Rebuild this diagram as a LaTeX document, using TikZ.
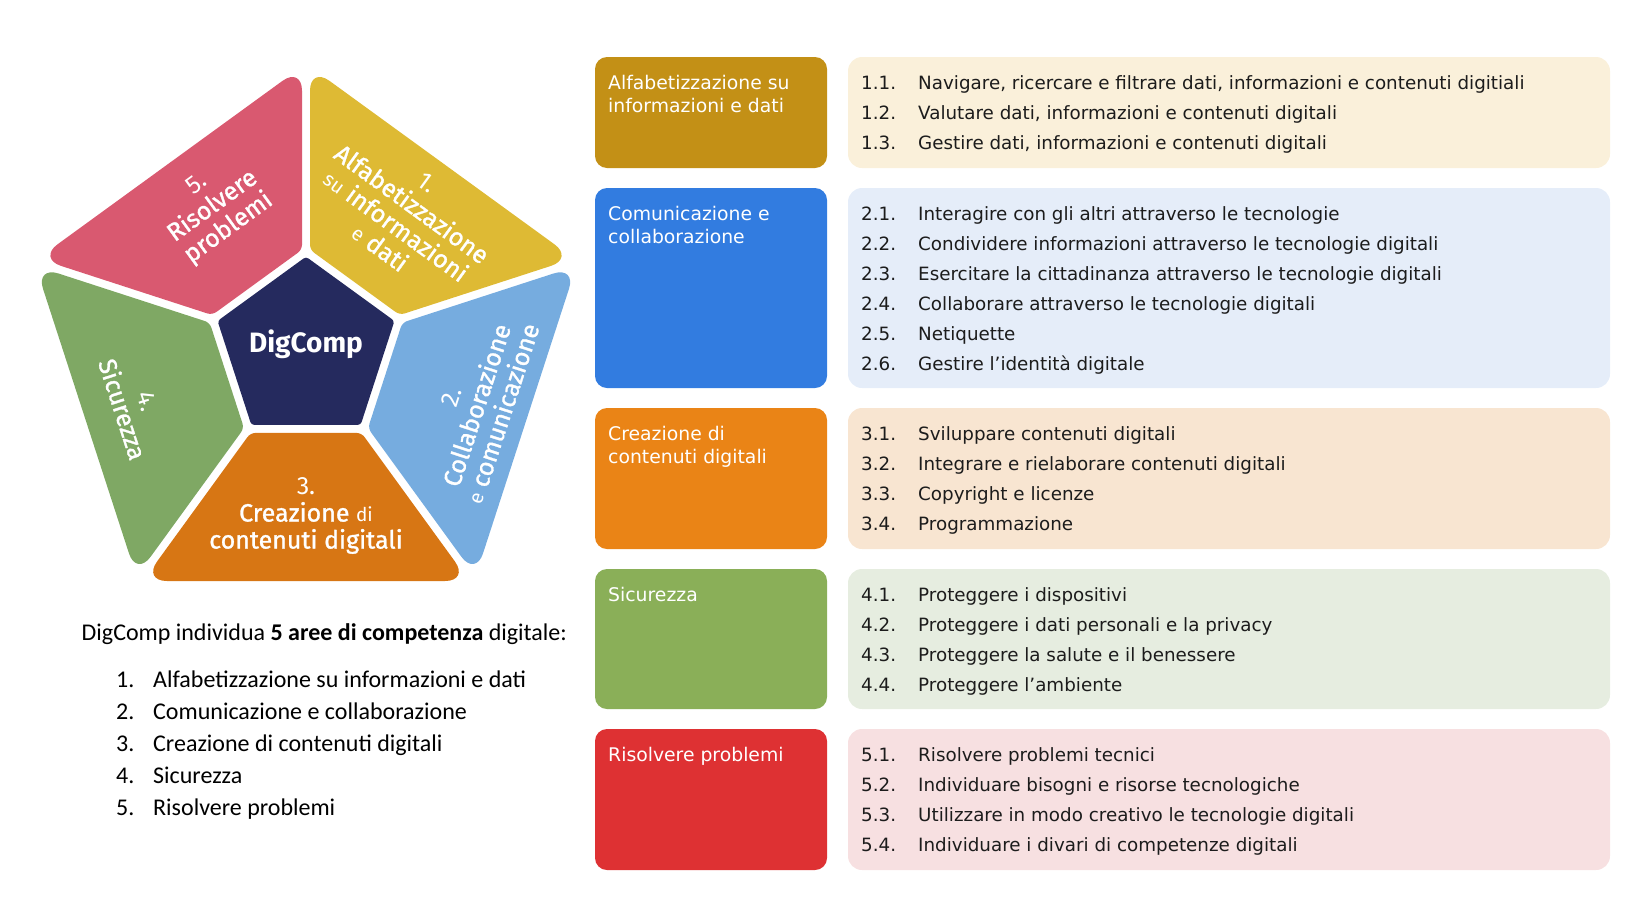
\documentclass[tikz,border=0pt]{standalone}
\usepackage{fontspec}
\setmainfont{DejaVu Sans}
\newfontfamily\calib{Carlito}
\newfontfamily\dcfont{Fira Sans}
\newfontfamily\dcmed{Fira Sans}[FakeBold=1.2]
\usetikzlibrary{shapes.geometric}
\definecolor{segred}{RGB}{217,89,112}
\definecolor{segyel}{RGB}{222,186,52}
\definecolor{segblu}{RGB}{118,172,223}
\definecolor{segora}{RGB}{215,118,20}
\definecolor{seggrn}{RGB}{127,168,100}
\definecolor{navy}{RGB}{37,42,94}
\definecolor{bgold}{RGB}{195,144,22}
\definecolor{bblue}{RGB}{50,124,224}
\definecolor{borange}{RGB}{234,132,22}
\definecolor{bgreen}{RGB}{138,175,88}
\definecolor{bred}{RGB}{222,49,51}
\definecolor{lgold}{RGB}{250,240,218}
\definecolor{lblue}{RGB}{229,237,249}
\definecolor{lorange}{RGB}{248,229,209}
\definecolor{lgreen}{RGB}{230,237,224}
\definecolor{lred}{RGB}{247,224,225}
\definecolor{txt}{RGB}{28,28,28}
\begin{document}
\begin{tikzpicture}[x=1pt,y=-1pt,
  box/.style={anchor=north west, inner sep=0pt, outer sep=0pt, rounded corners=12pt, minimum width=232pt},
  rbox/.style={anchor=north west, inner sep=0pt, outer sep=0pt, rounded corners=14pt, minimum width=762pt},
  ttl/.style={anchor=base west, inner sep=0pt, text=white, font=\fontsize{18.8}{22}\selectfont},
  num/.style={anchor=base west, inner sep=0pt, text=txt, font=\fontsize{18.3}{22}\selectfont},
  itm/.style={anchor=base west, inner sep=0pt, text=txt, font=\fontsize{18.3}{22}\selectfont},
  cal/.style={anchor=base west, inner sep=0pt, text=black, font=\calib\fontsize{24}{28}\selectfont},
  segtext/.style={align=center, text=white, inner sep=0pt, font=\dcfont\fontsize{25}{27}\selectfont}
]
\useasboundingbox (0,0) rectangle (1627,916);

% ---------- pentagon ----------
\begin{scope}[shift={(306,349.7)}]
  \foreach \k/\c in {0/segora,1/segblu,2/segyel,3/segred,4/seggrn}{
    \begin{scope}[rotate=72*\k]
      \fill[\c] (0,83.2) [rounded corners=5pt] -- (55.5,83.2) [rounded corners=24pt] -- (163.1,231.3) -- (-163.1,231.3) [rounded corners=5pt] -- (-55.5,83.2) -- cycle;
    \end{scope}
  }
  \node[regular polygon, regular polygon sides=5, minimum size=186pt, inner sep=0pt, outer sep=0pt, fill=navy, rounded corners=3pt] (pent) at (0,0) {};
  \node[text=white, inner sep=0pt, font=\dcfont\bfseries\fontsize{28}{30}\selectfont] (dc) at (0,-5) {DigComp};
  \node[segtext] (s3) at (90:166) {3.\\{\dcmed Creazione} {\fontsize{19}{27}\selectfont di}\\{\dcmed contenuti digitali}};
  \node[segtext, rotate=72] (s2) at (18:180) {2.\\{\dcmed Collaborazione}\\{\fontsize{20}{27}\selectfont e} {\dcmed comunicazione}};
  \node[segtext, rotate=-36] (s1) at (-54:166) {1.\\{\dcmed Alfabetizzazione}\\{\fontsize{20}{27}\selectfont su} {\dcmed informazioni}\\{\fontsize{20}{27}\selectfont e} {\dcmed dati}};
  \node[segtext, rotate=36] (s5) at (-123:170) {5.\\{\dcmed Risolvere}\\{\dcmed problemi}};
  \node[segtext, rotate=-72] (s4) at (162:180) {4.\\{\dcmed Sicurezza}};
\end{scope}

% ---------- left text ----------
\node[cal] (hd) at (81.5,640) {DigComp individua \textbf{5 aree di competenza} digitale:};
\foreach \n/\t/\y in {1/Alfabetizzazione su informazioni e dati/687,2/Comunicazione e collaborazione/719,3/Creazione di contenuti digitali/751,4/Sicurezza/783,5/Risolvere problemi/815}{
  \node[cal] (ln\n) at (116,\y) {\n.};
  \node[cal] (lt\n) at (153,\y) {\t};
}

% ---------- boxes ----------
\node[box, fill=bgold, minimum height=111pt] (a1) at (595,57) {};
\node[box, fill=bblue, minimum height=200pt] (a2) at (595,188) {};
\node[box, fill=borange, minimum height=141pt] (a3) at (595,408) {};
\node[box, fill=bgreen, minimum height=140pt] (a4) at (595,569) {};
\node[box, fill=bred, minimum height=141pt] (a5) at (595,729) {};
\node[rbox, fill=lgold, minimum height=111pt] (r1) at (848,57) {};
\node[rbox, fill=lblue, minimum height=200pt] (r2) at (848,188) {};
\node[rbox, fill=lorange, minimum height=141pt] (r3) at (848,408) {};
\node[rbox, fill=lgreen, minimum height=140pt] (r4) at (848,569) {};
\node[rbox, fill=lred, minimum height=141pt] (r5) at (848,729) {};

\node[ttl] (t1a) at (608,89) {Alfabetizzazione su};
\node[ttl] (t1b) at (608,112) {informazioni e dati};
\node[ttl] (t2a) at (608,220) {Comunicazione e};
\node[ttl] (t2b) at (608,243) {collaborazione};
\node[ttl] (t3a) at (608,440) {Creazione di};
\node[ttl] (t3b) at (608,463) {contenuti digitali};
\node[ttl] (t4a) at (608,601) {Sicurezza};
\node[ttl] (t5a) at (608,761) {Risolvere problemi};

\foreach \nm/\n/\y/\t in {
 n11/1.1./89/{Navigare, ricercare e filtrare dati, informazioni e contenuti digitiali},
 n12/1.2./119/{Valutare dati, informazioni e contenuti digitali},
 n13/1.3./149/{Gestire dati, informazioni e contenuti digitali},
 n21/2.1./220/{Interagire con gli altri attraverso le tecnologie},
 n22/2.2./250/{Condividere informazioni attraverso le tecnologie digitali},
 n23/2.3./280/{Esercitare la cittadinanza attraverso le tecnologie digitali},
 n24/2.4./310/{Collaborare attraverso le tecnologie digitali},
 n25/2.5./340/{Netiquette},
 n26/2.6./370/{Gestire l’identità digitale},
 n31/3.1./440/{Sviluppare contenuti digitali},
 n32/3.2./470/{Integrare e rielaborare contenuti digitali},
 n33/3.3./500/{Copyright e licenze},
 n34/3.4./530/{Programmazione},
 n41/4.1./601/{Proteggere i dispositivi},
 n42/4.2./631/{Proteggere i dati personali e la privacy},
 n43/4.3./661/{Proteggere la salute e il benessere},
 n44/4.4./691/{Proteggere l’ambiente},
 n51/5.1./761/{Risolvere problemi tecnici},
 n52/5.2./791/{Individuare bisogni e risorse tecnologiche},
 n53/5.3./821/{Utilizzare in modo creativo le tecnologie digitali},
 n54/5.4./851/{Individuare i divari di competenze digitali}}{
  \node[num] (\nm) at (861,\y) {\n};
  \node[itm] (i\nm) at (918,\y) {\t};
}
\end{tikzpicture}
\end{document}
